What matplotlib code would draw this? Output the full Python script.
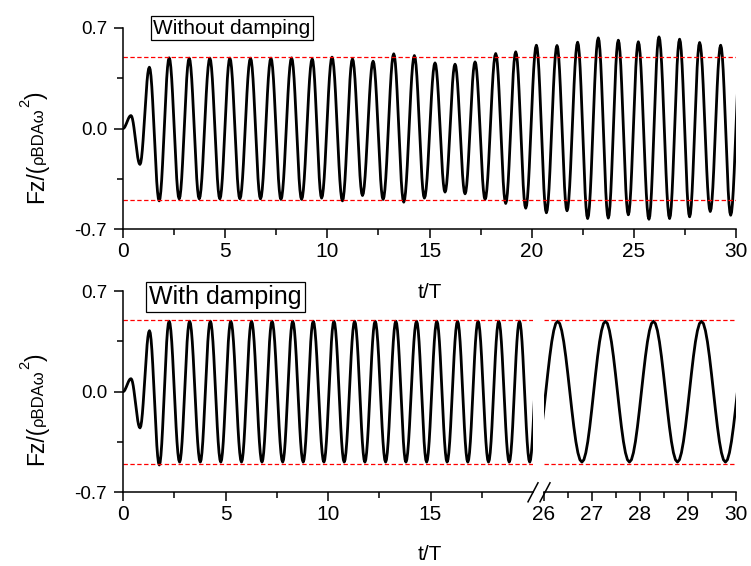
import matplotlib
matplotlib.use("Agg")
import matplotlib.pyplot as plt
from matplotlib.ticker import FixedLocator, MultipleLocator
from matplotlib.transforms import IdentityTransform

plt.rcParams['font.family'] = ['Liberation Sans', 'DejaVu Sans']

W, H = 751, 566

# extrema of Fz/(rho B D A w^2), (t/T, value)
# without damping, 0..30 (last point is the next crest, cut by the axis)
top_t = [0.0, 0.39, 0.83, 1.29, 1.77, 2.26, 2.75, 3.24, 3.73, 4.25, 4.74,
         5.23, 5.72, 6.24, 6.73, 7.24, 7.73, 8.25, 8.74, 9.26, 9.72,
         10.23, 10.74, 11.23, 11.72, 12.24, 12.73, 13.25, 13.74, 14.26, 14.75,
         15.27, 15.76, 16.25, 16.74, 17.23, 17.72, 18.24, 18.73, 19.22, 19.71,
         20.23, 20.72, 21.24, 21.73, 22.25, 22.74, 23.26, 23.75, 24.24, 24.73,
         25.22, 25.74, 26.23, 26.75, 27.24, 27.73, 28.22, 28.74, 29.25, 29.74,
         30.25]
top_v = [0.0, 0.09, -0.25, 0.427, -0.504, 0.492, -0.49, 0.49, -0.49, 0.49, -0.49,
         0.49, -0.49, 0.49, -0.49, 0.49, -0.494, 0.492, -0.494, 0.485, -0.485,
         0.497, -0.504, 0.485, -0.467, 0.469, -0.494, 0.52, -0.513, 0.508, -0.485,
         0.457, -0.443, 0.448, -0.455, 0.464, -0.494, 0.522, -0.522, 0.534, -0.555,
         0.58, -0.587, 0.578, -0.573, 0.601, -0.627, 0.631, -0.624, 0.615, -0.601,
         0.604, -0.632, 0.638, -0.627, 0.622, -0.615, 0.599, -0.578, 0.58, -0.604,
         0.58]

# with damping, first part 0..20
bot_t = [0.0, 0.39, 0.83, 1.29, 1.77, 2.25, 2.76, 3.25, 3.77, 4.26, 4.77,
         5.26, 5.78, 6.27, 6.78, 7.27, 7.79, 8.28, 8.79, 9.28, 9.8,
         10.29, 10.79, 11.3, 11.8, 12.3, 12.81, 13.31, 13.8, 14.32, 14.81,
         15.31, 15.81, 16.32, 16.82, 17.32, 17.83, 18.33, 18.84, 19.34, 19.84,
         20.33]
bot_v = [0.0, 0.09, -0.252, 0.424, -0.51, 0.49, -0.49, 0.49, -0.49, 0.49, -0.49,
         0.49, -0.49, 0.49, -0.49, 0.49, -0.49, 0.49, -0.49, 0.49, -0.49,
         0.49, -0.49, 0.49, -0.49, 0.49, -0.49, 0.49, -0.49, 0.49, -0.49,
         0.49, -0.49, 0.49, -0.49, 0.49, -0.49, 0.49, -0.49, 0.49, -0.49,
         0.49]

# with damping, second part 26..30
bot2_t = [25.79, 26.285, 26.79, 27.28, 27.78, 28.28, 28.78, 29.28, 29.78, 30.28]
bot2_v = [-0.49, 0.49, -0.49, 0.49, -0.49, 0.49, -0.49, 0.49, -0.49, 0.49]

ref_level = 0.5

# how one swing goes from one extremum to the next (fraction of the swing)
swing = [0.0, 0.017, 0.067, 0.146, 0.25, 0.371, 0.5, 0.629, 0.75, 0.854,
         0.933, 0.983, 1.0]


def trace(ts, vs):
    xs, ys = [ts[0]], [vs[0]]
    n = len(swing) - 1
    for i in range(len(ts) - 1):
        for k in range(1, n + 1):
            xs.append(ts[i] + (ts[i + 1] - ts[i]) * k / n)
            ys.append(vs[i] + (vs[i + 1] - vs[i]) * swing[k])
    return xs, ys


def style(ax, left=True):
    ax.set_ylim(-0.7, 0.7)
    ax.spines['top'].set_visible(False)
    ax.spines['right'].set_visible(False)
    for s in ax.spines.values():
        s.set_linewidth(1.1)
    ax.tick_params(which='both', direction='out', width=1.1)
    ax.tick_params(which='major', length=6.5)
    ax.tick_params(which='minor', length=4)
    ax.tick_params(axis='x', labelsize=15, pad=3)
    ax.tick_params(axis='y', labelsize=13.5, pad=5)
    if left:
        ax.yaxis.set_major_locator(FixedLocator([-0.7, 0.0, 0.7]))
        ax.yaxis.set_minor_locator(FixedLocator([-0.35, 0.35]))
        ax.set_yticklabels(['-0.7', '0.0', '0.7'])
    else:
        ax.spines['left'].set_visible(False)
        ax.set_yticks([])
    ax.patch.set_alpha(0)


def box_label(ax, x, y, s, size):
    ax.text(x, y, s, transform=ax.transAxes, fontsize=size, ha='left', va='center',
            bbox=dict(boxstyle='square,pad=0.12', fc='white', ec='black', lw=0.9))


def ylabel_pieces(fig, x_px, y_px, pieces):
    renderer = fig.canvas.get_renderer()
    y = H - y_px
    for s, size, rise in pieces:
        t = fig.text(x_px - rise, y, s, fontsize=size, rotation=90,
                     rotation_mode='anchor', ha='left', va='baseline',
                     transform=IdentityTransform())
        y += t.get_window_extent(renderer).height


fig = plt.figure(figsize=(W / 100, H / 100), dpi=100)

# top panel
ax1 = fig.add_axes([123 / W, (H - 229) / H, 613 / W, 201 / H])
x, y = trace(top_t, top_v)
ax1.plot(x, y, color='black', lw=2.0)
ax1.axhline(ref_level, color='red', lw=0.9, ls=(0, (3.5, 2)))
ax1.axhline(-ref_level, color='red', lw=0.9, ls=(0, (3.5, 2)))
ax1.set_xlim(0, 30)
style(ax1)
ax1.xaxis.set_major_locator(MultipleLocator(5))
ax1.xaxis.set_minor_locator(MultipleLocator(2.5))
box_label(ax1, 30 / 613, 1.0 - 0 / 201, 'Without damping', 15)

# bottom panel, broken axis
ax2 = fig.add_axes([123 / W, (H - 492.3) / H, 410 / W, 201.3 / H])
x, y = trace(bot_t, bot_v)
ax2.plot(x, y, color='black', lw=2.0)
ax2.axhline(ref_level, color='red', lw=0.9, ls=(0, (3.5, 2)))
ax2.axhline(-ref_level, color='red', lw=0.9, ls=(0, (3.5, 2)))
ax2.set_xlim(0, 20)
style(ax2)
ax2.xaxis.set_major_locator(FixedLocator([0, 5, 10, 15]))
ax2.xaxis.set_minor_locator(FixedLocator([2.5, 7.5, 12.5, 17.5]))
box_label(ax2, 26 / 410, 1.0 - 6 / 201.3, 'With damping', 18)

ax3 = fig.add_axes([544 / W, (H - 492.3) / H, 192 / W, 201.3 / H])
x, y = trace(bot2_t, bot2_v)
ax3.plot(x, y, color='black', lw=2.0)
ax3.axhline(ref_level, color='red', lw=0.9, ls=(0, (3.5, 2)))
ax3.axhline(-ref_level, color='red', lw=0.9, ls=(0, (3.5, 2)))
ax3.set_xlim(26, 30)
style(ax3, left=False)
ax3.xaxis.set_major_locator(MultipleLocator(1))
ax3.xaxis.set_minor_locator(MultipleLocator(0.5))

# break marks
dy = 9.5 / 201.3
ax2.plot([1 - 5 / 410, 1 + 5 / 410], [-dy, dy], transform=ax2.transAxes,
         color='black', lw=1.1, clip_on=False)
ax3.plot([1 / 192 - 5 / 192, 1 / 192 + 5 / 192], [-dy, dy], transform=ax3.transAxes,
         color='black', lw=1.1, clip_on=False)

# axis titles
fig.text(429.5 / W, 1 - 298 / H, 't/T', fontsize=15, ha='center', va='baseline')
fig.text(429.5 / W, 1 - 560 / H, 't/T', fontsize=15, ha='center', va='baseline')

pieces = [('Fz/(', 16.5, 0), ('\u03c1BDA\u03c9', 12, 0), ('2', 10.5, 14), (')', 16.5, 0)]
ylabel_pieces(fig, 43, 203, pieces)
ylabel_pieces(fig, 43, 465, pieces)

fig.savefig('out.png', dpi=100)
